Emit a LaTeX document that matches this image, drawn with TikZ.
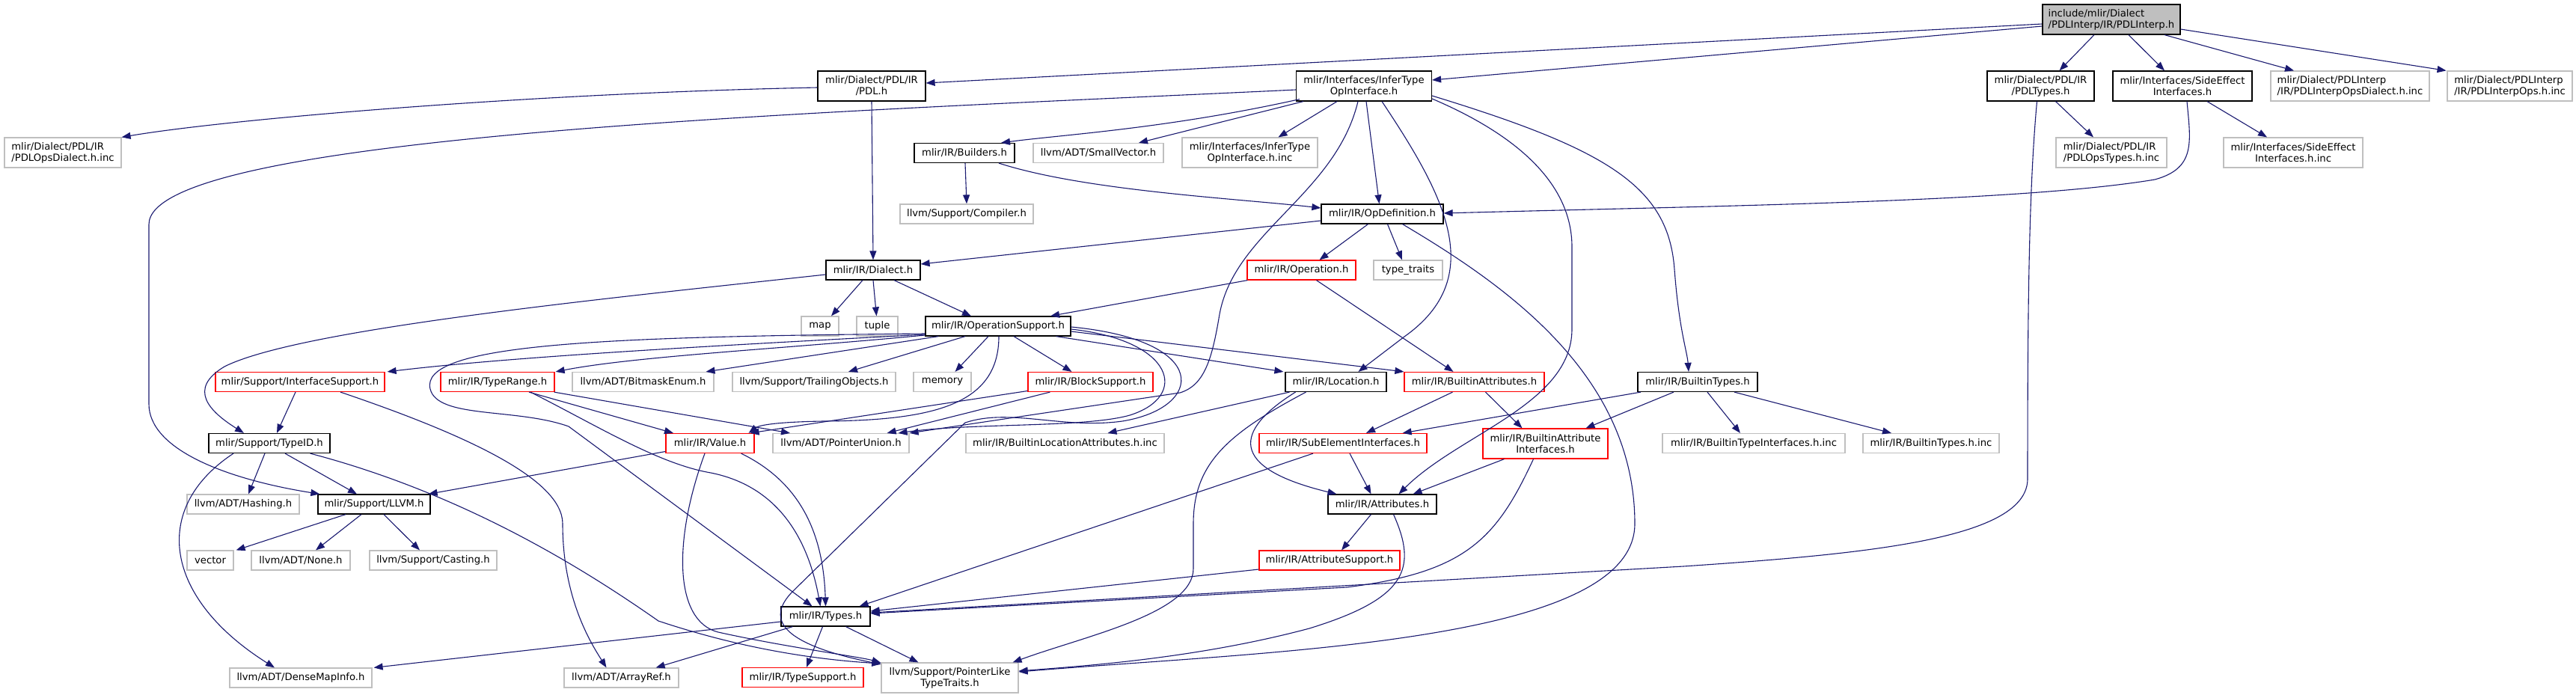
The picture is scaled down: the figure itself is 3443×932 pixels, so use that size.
\documentclass[tikz,border=0pt]{standalone}
\usepackage{fontspec}
\usetikzlibrary{arrows.meta,calc}
\newfontfamily\dvs{DejaVu Sans}
\definecolor{edgec}{HTML}{191970}
\definecolor{grey75}{HTML}{BFBFBF}
\definecolor{rbord}{HTML}{FF0000}
\newcommand\mknode[7]{\node[#6, minimum width=#4*0.5pt, minimum height=#5*0.5pt] (#1) at (#2,#3) {#7};}
\tikzset{
  base/.style={rectangle, line width=0.6pt, inner sep=0pt, align=center,
    font={\dvs\fontsize{6.6}{7.5}\selectfont}},
  bbox/.style={base, draw=black},
  gbox/.style={base, draw=grey75},
  rbox/.style={base, draw=rbord},
  rootbox/.style={base, draw=black, fill=grey75},
  e/.style={draw=edgec, line width=0.55pt, -{Triangle[length=6pt,width=4.5pt,fill=edgec]}}
}
\begin{document}
\begin{tikzpicture}[x=0.5pt,y=-0.5pt]
\useasboundingbox (0,0) rectangle (3443,932);
\fill[white] (0,0) rectangle (3443,932);
% nodes
\mknode{root}{2822}{26}{184}{40}{rootbox,align=left}{include/mlir/Dialect\\/PDLInterp/IR/PDLInterp.h}
\mknode{pdl}{1165}{115}{144}{40}{bbox}{mlir/Dialect/PDL/IR\\/PDL.h}
\mknode{infer}{1823}{115}{181}{40}{bbox}{mlir/Interfaces/InferType\\OpInterface.h}
\mknode{pdltypes}{2727.5}{115}{143}{40}{bbox}{mlir/Dialect/PDL/IR\\/PDLTypes.h}
\mknode{sideeff}{2917}{115}{186}{40}{bbox}{mlir/Interfaces/SideEffect\\Interfaces.h}
\mknode{pdliod}{3141}{115}{212}{40}{gbox,align=left}{mlir/Dialect/PDLInterp\\/IR/PDLInterpOpsDialect.h.inc}
\mknode{pdlio}{3354.5}{115}{167}{40}{gbox,align=left}{mlir/Dialect/PDLInterp\\/IR/PDLInterpOps.h.inc}
\mknode{pdlod}{84}{204}{156}{40}{gbox,align=left}{mlir/Dialect/PDL/IR\\/PDLOpsDialect.h.inc}
\mknode{builders}{1289}{204.5}{134}{26}{bbox}{mlir/IR/Builders.h}
\mknode{smallvec}{1468}{204.5}{174}{26}{gbox}{llvm/ADT/SmallVector.h}
\mknode{inferinc}{1670.5}{204}{181}{40}{gbox}{mlir/Interfaces/InferType\\OpInterface.h.inc}
\mknode{pdlot}{2822}{204}{148}{40}{gbox,align=left}{mlir/Dialect/PDL/IR\\/PDLOpsTypes.h.inc}
\mknode{seinc}{3065}{204}{186}{40}{gbox}{mlir/Interfaces/SideEffect\\Interfaces.h.inc}
\mknode{compiler}{1292}{286}{178}{26}{gbox}{llvm/Support/Compiler.h}
\mknode{opdef}{1847.5}{286}{163}{26}{bbox}{mlir/IR/OpDefinition.h}
\mknode{dialect}{1167}{361}{126}{26}{bbox}{mlir/IR/Dialect.h}
\mknode{operation}{1739.5}{361}{145}{26}{rbox}{mlir/IR/Operation.h}
\mknode{typetraits}{1882}{361}{92}{26}{gbox}{type\_traits}
\mknode{map}{1096}{436}{50}{26}{gbox}{map}
\mknode{tuple}{1172.5}{436}{55}{26}{gbox}{tuple}
\mknode{opsupport}{1334}{436}{194}{26}{bbox}{mlir/IR/OperationSupport.h}
\mknode{ifsupport}{401}{510.5}{226}{26}{rbox}{mlir/Support/InterfaceSupport.h}
\mknode{typerange}{665}{510.5}{152}{26}{rbox}{mlir/IR/TypeRange.h}
\mknode{bitmask}{859.5}{510.5}{189}{26}{gbox}{llvm/ADT/BitmaskEnum.h}
\mknode{trailing}{1088}{510.5}{218}{26}{gbox}{llvm/Support/TrailingObjects.h}
\mknode{memory}{1259.5}{510.5}{77}{26}{gbox}{memory}
\mknode{blocksupport}{1457.5}{510.5}{167}{26}{rbox}{mlir/IR/BlockSupport.h}
\mknode{location}{1785.5}{510.5}{135}{26}{bbox}{mlir/IR/Location.h}
\mknode{battr}{1970.5}{510.5}{187}{26}{rbox}{mlir/IR/BuiltinAttributes.h}
\mknode{btypes}{2269}{510.5}{160}{26}{bbox}{mlir/IR/BuiltinTypes.h}
\mknode{typeid}{360}{592.5}{162}{26}{bbox}{mlir/Support/TypeID.h}
\mknode{value}{949}{592.5}{118}{26}{rbox}{mlir/IR/Value.h}
\mknode{punion}{1124}{592.5}{182}{26}{gbox}{llvm/ADT/PointerUnion.h}
\mknode{bloc}{1423.5}{592.5}{265}{26}{gbox}{mlir/IR/BuiltinLocationAttributes.h.inc}
\mknode{subel}{1795}{592.5}{224}{26}{rbox}{mlir/IR/SubElementInterfaces.h}
\mknode{bai}{2065.5}{593}{167}{40}{rbox}{mlir/IR/BuiltinAttribute\\Interfaces.h}
\mknode{btinc}{2344}{592.5}{244}{26}{gbox}{mlir/IR/BuiltinTypeInterfaces.h.inc}
\mknode{btypesinc}{2581}{592.5}{182}{26}{gbox}{mlir/IR/BuiltinTypes.h.inc}
\mknode{hashing}{325}{674}{150}{26}{gbox}{llvm/ADT/Hashing.h}
\mknode{llvm}{500}{674}{150}{26}{bbox}{mlir/Support/LLVM.h}
\mknode{attrs}{1847.5}{674}{145}{26}{bbox}{mlir/IR/Attributes.h}
\mknode{vector}{281}{749}{62}{26}{gbox}{vector}
\mknode{none}{402}{749}{132}{26}{gbox}{llvm/ADT/None.h}
\mknode{casting}{579}{749}{170}{26}{gbox}{llvm/Support/Casting.h}
\mknode{attrsupport}{1777}{749}{188}{26}{rbox}{mlir/IR/AttributeSupport.h}
\mknode{types}{1103.5}{824}{119}{26}{bbox}{mlir/IR/Types.h}
\mknode{densemap}{402}{906}{190}{26}{gbox}{llvm/ADT/DenseMapInfo.h}
\mknode{arrayref}{830.5}{906}{153}{26}{gbox}{llvm/ADT/ArrayRef.h}
\mknode{typesupport}{1073}{905.5}{162}{26}{rbox}{mlir/IR/TypeSupport.h}
\mknode{plike}{1269.5}{906}{183}{40}{gbox}{llvm/Support/PointerLike\\TypeTraits.h}
% edges
\draw[e] ($(root.west)+(0,6)$) -- ($(pdl.east)+(0,-4)$);
\draw[e] ($(root.west)+(0,9)$) -- ($(infer.east)+(0,-8)$);
\draw[e] ($(root.south)+(-23,0)$) -- ($(pdltypes.north)+(25,0)$);
\draw[e] ($(root.south)+(23,0)$) -- ($(sideeff.north)+(-24,0)$);
\draw[e] ($(root.south)+(71,0)$) -- ($(pdliod.north)+(-75,0)$);
\draw[e] ($(root.east)+(0,13)$) -- ($(pdlio.north)+(-85,0)$);
\draw[e] ($(pdl.west)+(0,2)$) .. controls (700,125) and (300,160) .. (pdlod.north east);
\draw[e] (pdl.south) -- (dialect.north);
\draw[e] ($(infer.west)+(0,5)$) .. controls (1100,150) and (199,180) .. (199,300) -- (199,540) .. controls (199,600) and (300,640) .. ($(llvm.north west)+(3,0)$);
\draw[e] ($(infer.south west)+(5,-3)$) .. controls (1560,172) and (1420,180) .. ($(builders.north)+(49,0)$);
\draw[e] ($(infer.south west)+(10,0)$) -- ($(smallvec.north)+(54,0)$);
\draw[e] ($(infer.south)+(-36,0)$) -- ($(inferinc.north)+(38,0)$);
\draw[e] ($(infer.south)+(3,0)$) -- ($(opdef.north)+(-4,0)$);
\draw[e] ($(infer.south)+(-8,0)$) .. controls (1785,260) and (1650,310) .. (1630,420) .. controls (1620,480) and (1610,515) .. (1577,525) -- (punion.north east);
\draw[e] ($(infer.south)+(24,0)$) .. controls (1930,260) and (1990,370) .. (1877,450) -- ($(location.north)+(30,0)$);
\draw[e] ($(infer.east)+(0,17)$) .. controls (2050,190) and (2101,260) .. (2101,330) -- (2101,440) .. controls (2101,540) and (1950,580) .. ($(attrs.north)+(22,0)$);
\draw[e] ($(infer.east)+(0,13)$) .. controls (2150,200) and (2230,250) .. (2238,360) .. controls (2244,440) and (2255,470) .. ($(btypes.north)+(-12,0)$);
\draw[e] ($(builders.south)+(1,0)$) -- (compiler.north);
\draw[e] ($(builders.south)+(46,0)$) .. controls (1450,255) and (1650,265) .. ($(opdef.west)+(0,-8)$);
\draw[e] ($(sideeff.south)+(6,0)$) .. controls (2928,190) and (2935,225) .. (2880,240) .. controls (2700,270) and (2300,275) .. ($(opdef.east)+(0,-1)$);
\draw[e] ($(sideeff.south)+(33,0)$) -- ($(seinc.north)+(-35,0)$);
\draw[e] ($(pdltypes.south)+(20,0)$) -- ($(pdlot.north)+(-24,0)$);
\draw[e] ($(pdltypes.south)+(-5,0)$) .. controls (2712,250) and (2710,400) .. (2710,640) .. controls (2710,720) and (2500,740) .. (2250,757) -- ($(types.east)+(0,-5)$);
\draw[e] ($(opdef.west)+(0,9)$) -- ($(dialect.east)+(0,-8)$);
\draw[e] ($(opdef.south)+(-19,0)$) -- ($(operation.north)+(24,0)$);
\draw[e] ($(opdef.south)+(7,0)$) -- ($(typetraits.north)+(-8,0)$);
\draw[e] ($(opdef.south)+(27,0)$) .. controls (2010,380) and (2185,500) .. (2185,700) .. controls (2185,860) and (1700,870) .. ($(plike.east)+(0,-8)$);
\draw[e] ($(operation.south west)+(1,0)$) -- ($(opsupport.north)+(70,0)$);
\draw[e] ($(operation.south)+(20,0)$) -- ($(battr.north)+(-28,0)$);
\draw[e] ($(dialect.south)+(-14,0)$) -- ($(map.north)+(15,0)$);
\draw[e] (dialect.south) -- ($(tuple.north)+(-1,0)$);
\draw[e] ($(dialect.south)+(28,0)$) -- ($(opsupport.north)+(-36,0)$);
\draw[e] ($(dialect.west)+(0,6)$) .. controls (800,400) and (400,440) .. (300,490) .. controls (250,520) and (280,550) .. ($(typeid.north)+(-34,0)$);
\draw[e] ($(opsupport.west)+(0,11)$) .. controls (1000,460) and (700,475) .. ($(ifsupport.north east)+(3,0)$);
\draw[e] ($(opsupport.west)+(0,12)$) .. controls (1050,466) and (850,476) .. ($(typerange.north east)+(1,0)$);
\draw[e] ($(opsupport.south west)+(18,0)$) -- ($(bitmask.north)+(84,0)$);
\draw[e] ($(opsupport.south)+(-44,0)$) -- ($(trailing.north)+(46,0)$);
\draw[e] ($(opsupport.south)+(-13,0)$) -- ($(memory.north)+(17,0)$);
\draw[e] ($(opsupport.south)+(21,0)$) -- ($(blocksupport.north)+(-25,0)$);
\draw[e] ($(opsupport.south east)+(-20,0)$) -- ($(location.north west)+(-2,0)$);
\draw[e] ($(opsupport.east)+(0,7)$) -- (battr.north west);
\draw[e] ($(opsupport.east)+(0,4)$) .. controls (1570,455) and (1590,530) .. (1510,555) .. controls (1450,572) and (1300,565) .. ($(punion.north east)+(-15,0)$);
\draw[e] ($(opsupport.east)+(0,1)$) .. controls (1620,455) and (1610,545) .. (1500,563) .. controls (1420,574) and (1350,545) .. (1290,565) -- (1060,790) .. controls (1020,830) and (1050,862) .. ($(plike.west)+(0,-18)$);
\draw[e] ($(opsupport.south)+(1,0)$) .. controls (1335,540) and (1250,562) .. (1100,563) .. controls (1040,564) and (1015,568) .. ($(value.north east)+(-8,0)$);
\draw[e] ($(opsupport.west)+(0,10)$) .. controls (800,450) and (560,460) .. (575,520) .. controls (585,560) and (690,545) .. (760,570) -- ($(types.north)+(-18,0)$);
\draw[e] ($(typerange.south)+(42,0)$) -- ($(value.north)+(-49,0)$);
\draw[e] ($(typerange.south east)+(-1,0)$) -- ($(punion.north)+(-68,0)$);
\draw[e] ($(typerange.south)+(44,0)$) .. controls (800,570) and (880,620) .. (950,632) .. controls (1040,650) and (1080,720) .. ($(types.north)+(-7,0)$);
\draw[e] ($(value.west)+(0,11)$) -- ($(llvm.north east)+(-3,0)$);
\draw[e] ($(value.south east)+(-18,0)$) .. controls (1060,640) and (1100,700) .. (types.north);
\draw[e] ($(value.south)+(-7,0)$) .. controls (900,720) and (900,830) .. (960,845) .. controls (1050,865) and (1150,878) .. ($(plike.west)+(0,-20)$);
\draw[e] ($(typeid.south)+(-6,0)$) -- ($(hashing.north)+(7,0)$);
\draw[e] ($(typeid.south)+(21,0)$) -- ($(llvm.north)+(-23,0)$);
\draw[e] ($(typeid.south)+(-48,0)$) .. controls (200,680) and (220,800) .. ($(densemap.north)+(-35,0)$);
\draw[e] ($(typeid.south east)+(-27,0)$) .. controls (620,660) and (780,760) .. (880,830) .. controls (1000,870) and (1100,882) .. ($(plike.west)+(0,-19)$);
\draw[e] ($(llvm.south)+(-38,0)$) -- ($(vector.north east)+(3,0)$);
\draw[e] ($(llvm.south)+(-17,0)$) -- ($(none.north)+(20,0)$);
\draw[e] ($(llvm.south)+(13,0)$) -- ($(casting.north)+(-18,0)$);
\draw[e] ($(ifsupport.south)+(-6,0)$) -- ($(typeid.north)+(10,0)$);
\draw[e] ($(ifsupport.south)+(54,0)$) .. controls (620,580) and (752,640) .. (752,700) .. controls (752,800) and (790,860) .. ($(arrayref.north)+(-20,0)$);
\draw[e] ($(types.west)+(0,7)$) -- ($(densemap.north east)+(2,0)$);
\draw[e] ($(types.south west)+(16,0)$) -- ($(arrayref.north east)+(-31,0)$);
\draw[e] ($(types.south)+(-4,0)$) -- ($(typesupport.north)+(5,0)$);
\draw[e] ($(types.south)+(27,0)$) -- ($(plike.north)+(-42,0)$);
\draw[e] ($(location.south)+(-62,0)$) -- ($(bloc.north)+(57,0)$);
\draw[e] ($(location.south)+(-40,0)$) .. controls (1640,580) and (1595,620) .. (1595,700) -- (1595,760) .. controls (1595,820) and (1450,850) .. ($(plike.north east)+(-8,0)$);
\draw[e] ($(location.south)+(-54,0)$) .. controls (1650,575) and (1640,625) .. ($(attrs.north)+(-61,0)$);
\draw[e] ($(battr.south)+(-29,0)$) -- ($(subel.north)+(31,0)$);
\draw[e] ($(battr.south)+(15,0)$) -- ($(bai.north)+(-31,0)$);
\draw[e] ($(btypes.south)+(-76,0)$) -- ($(subel.north east)+(-33,0)$);
\draw[e] ($(btypes.south)+(-32,0)$) -- ($(bai.north)+(54,0)$);
\draw[e] ($(btypes.south)+(13,0)$) -- ($(btinc.north)+(-18,0)$);
\draw[e] ($(btypes.south)+(49,0)$) -- ($(btypesinc.north)+(-53,0)$);
\draw[e] ($(subel.south)+(9,0)$) -- ($(attrs.north)+(-15,0)$);
\draw[e] ($(subel.south)+(-40,0)$) -- ($(types.north east)+(-15,0)$);
\draw[e] ($(bai.south)+(-55,0)$) -- ($(attrs.north east)+(-32,0)$);
\draw[e] ($(bai.south)+(-16,0)$) .. controls (2000,720) and (1960,765) .. (1800,785) -- ($(types.east)+(0,-4)$);
\draw[e] ($(attrs.south)+(-15,0)$) -- ($(attrsupport.north)+(16,0)$);
\draw[e] ($(attrs.south)+(15,0)$) .. controls (1895,760) and (1880,800) .. (1750,840) .. controls (1600,880) and (1450,890) .. ($(plike.east)+(0,-9)$);
\draw[e] ($(attrsupport.west)+(0,12)$) -- ($(types.east)+(0,-7)$);
\draw[e] ($(blocksupport.west)+(0,12)$) -- ($(value.north east)+(-6,0)$);
\draw[e] ($(blocksupport.south west)+(30,0)$) -- ($(punion.north east)+(-30,0)$);
\end{tikzpicture}
\end{document}
